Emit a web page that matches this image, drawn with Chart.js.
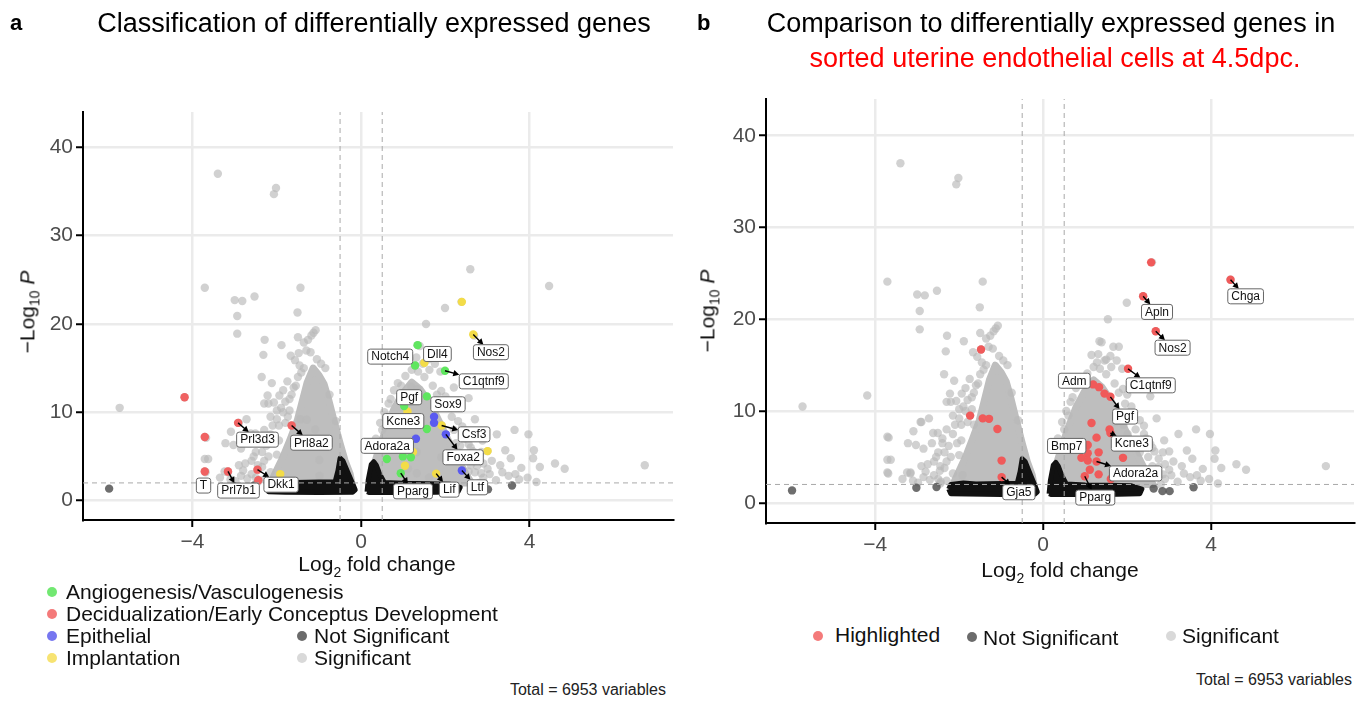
<!DOCTYPE html>
<html lang="en">
<head>
<meta charset="UTF-8">
<title>Differentially expressed genes - volcano plots</title>
<script src="https://cdn.jsdelivr.net/npm/chart.js"></script>
<style>
  body { margin: 0; width: 1363px; height: 701px; position: relative; background: #fff; overflow: hidden;
         font-family: "Liberation Sans", Arial, Helvetica, sans-serif; color: #000; }
  canvas { position: absolute; top: 0; }
  .c { position: absolute; white-space: nowrap; transform: translate(-50%, -50%); }
  .l { position: absolute; white-space: nowrap; transform: translateY(-50%); }
  .r { position: absolute; white-space: nowrap; transform: translate(-100%, -50%); }
  .head { font-size: 27px; }
  .tag { font-size: 22px; font-weight: bold; }
  .axt { font-size: 21px; color: #111; }
  .yt { transform: translate(-50%, -50%) rotate(-90deg); }
  .leg { font-size: 21px; color: #111; }
  .dot { position: absolute; width: 10px; height: 10px; border-radius: 50%; transform: translate(-50%, -50%); }
  .tot { font-size: 16px; color: #222; }
</style>
</head>
<body>
  <canvas id="volcanoA" width="680" height="560" style="left:0px"></canvas>
  <canvas id="volcanoB" width="680" height="560" style="left:683px"></canvas>

  <!-- titles -->
  <div class="l tag" style="left:10px; top:23px">a</div>
  <div class="c head" style="left:374px; top:23px">Classification of differentially expressed genes</div>
  <div class="l tag" style="left:697px; top:23px">b</div>
  <div class="c head" style="left:1051px; top:23px">Comparison to differentially expressed genes in</div>
  <div class="c head" style="left:1055px; top:58px; color:#ff0000">sorted uterine endothelial cells at 4.5dpc.</div>

  <!-- axis titles -->
  <div class="c axt" style="left:377px; top:566px">Log<sub style="font-size:14px">2</sub> fold change</div>
  <div class="c axt" style="left:1060px; top:572px">Log<sub style="font-size:14px">2</sub> fold change</div>
  <div class="c axt yt" style="left:29px; top:312px">&minus;Log<sub style="font-size:14px">10</sub> <i>P</i></div>
  <div class="c axt yt" style="left:709px; top:311px">&minus;Log<sub style="font-size:14px">10</sub> <i>P</i></div>

  <!-- legend a -->
  <div class="dot" style="left:52px; top:592px; background:#72e872"></div>
  <div class="l leg" style="left:66px; top:592px">Angiogenesis/Vasculogenesis</div>
  <div class="dot" style="left:52px; top:614px; background:#f47a7a"></div>
  <div class="l leg" style="left:66px; top:614px">Decidualization/Early Conceptus Development</div>
  <div class="dot" style="left:52px; top:636px; background:#7676f0"></div>
  <div class="l leg" style="left:66px; top:636px">Epithelial</div>
  <div class="dot" style="left:52px; top:658px; background:#f7e372"></div>
  <div class="l leg" style="left:66px; top:658px">Implantation</div>
  <div class="dot" style="left:302px; top:636px; background:#6b6b6b"></div>
  <div class="l leg" style="left:314px; top:636px">Not Significant</div>
  <div class="dot" style="left:302px; top:658px; background:#d9d9d9"></div>
  <div class="l leg" style="left:314px; top:658px">Significant</div>
  <div class="r tot" style="left:666px; top:690px">Total = 6953 variables</div>

  <!-- legend b -->
  <div class="dot" style="left:818px; top:636px; background:#f47a7a"></div>
  <div class="l leg" style="left:835px; top:635px">Highlighted</div>
  <div class="dot" style="left:972px; top:637px; background:#6b6b6b"></div>
  <div class="l leg" style="left:983px; top:638px">Not Significant</div>
  <div class="dot" style="left:1171px; top:636px; background:#d9d9d9"></div>
  <div class="l leg" style="left:1182px; top:636px">Significant</div>
  <div class="r tot" style="left:1352px; top:680px">Total = 6953 variables</div>

  <script>
    // axis ranges, ticks and cut-offs
    const xRange = [-6.6, 7.4];
    const yRange = [-2.2, 44];
    const xTicks = [-4, 0, 4];
    const yTicks = [0, 10, 20, 30, 40];
    const fcCut = 0.5;
    const pCut = 2;

    // significant genes (light grey), shared by both panels
    const sigX = [-5.73, -4.19, -3.40, -2.07, -2.02, -3.71, -3.00, -2.82, -2.53, -2.94, -2.94, -1.44, -1.51, -1.08, -1.13,
      -1.18, -1.26, -1.36, -1.50, -2.29, -1.89, -2.32, -1.67, -1.57, -1.46, -1.36, -1.05, -0.95, -1.20, -1.30, -0.85,
      -2.36, -2.12, -2.22, -1.94, -2.30, -2.20, -2.07, -1.85, -1.75, -2.72, -2.90, -3.09, -2.62, -2.51, -3.68, -3.22,
      -3.03, -2.85, -3.71, -3.63, -3.24, -3.16, -3.69, -2.98, -2.80, -2.60, -2.50, -2.40, -2.30, -2.15, -2.00, -2.70,
      -2.50, -2.35, -2.20, -2.05, -1.95, -1.85, -1.70, -1.60, -2.90, -2.65, -3.35, -3.10, -2.45, -2.60, -2.45, -2.55,
      -2.35, -2.40, -2.25, -2.15, -2.10, -2.00, -1.90, -1.80, -1.65, -1.55, -1.50, -1.42, -2.75, -2.85, -2.30, -2.15,
      -2.30, -2.00, -1.95, -1.80, -1.70, -0.60, -0.75, -1.48, -1.74, -1.44, -1.29, -1.09, -0.99, -0.99, -3.71, -3.71,
      -2.92, -3.16, -2.46, -2.44, -1.65, -1.92,
      2.59, 4.46, 2.38, 1.99, 1.54, 2.68, 1.39, 1.67, 1.80, 1.15, 1.31, 1.46, 1.62, 1.20, 1.05, 0.87, 1.88, 1.90,
      2.20, 2.55, 2.70, 3.22, 3.64, 3.97, 2.88, 3.42, 4.10, 4.08, 4.24, 4.60, 4.83, 6.73, 3.80, 3.66, 3.50, 3.95,
      4.16, 3.10, 3.00, 3.30, 2.90, 3.20, 2.75, 2.60, 2.40, 2.30, 2.10, 2.55, 2.85, 3.55, 2.00, 0.70, 0.60, 0.50,
      0.45, 0.78, 0.95, 1.60, 1.75, 2.25, 2.50, 3.35, 3.75, 2.80, 0.45, 0.55, 0.65, 0.35, 0.30, 2.20, 2.35, 2.60,
      2.70, 2.45, 2.15, 1.95, 1.80, 1.70, 1.50, 1.35, 2.30, 2.75, 2.90, 3.05, 2.65, 2.85, 2.55, 2.40, 1.19, 1.33,
      1.46, 1.15, 1.27, 1.06, 1.32, 1.90, 1.11, 1.32, 1.61, 1.34, 1.28, 1.50, 1.73, 1.73, 1.91, 2.01, 3.00, 2.39, 1.78];
    const sigY = [10.5, 11.7, 37.0, 34.7, 35.4, 24.1, 22.7, 22.6, 23.1, 20.9, 18.9, 24.1, 21.3, 19.3, 19.0,
      18.7, 18.2, 17.9, 18.5, 18.2, 17.6, 16.5, 16.4, 15.9, 15.3, 15.0, 16.0, 15.5, 16.8, 17.0, 15.0,
      14.0, 13.3, 11.9, 11.9, 11.0, 11.0, 11.1, 12.5, 13.5, 9.2, 8.8, 7.8, 7.6, 7.6, 7.1, 6.5,
      6.3, 5.9, 4.7, 4.7, 3.3, 3.2, 3.2, 2.2, 3.4, 4.5, 5.5, 6.5, 8.0, 9.5, 10.2, 2.5,
      2.6, 3.8, 5.0, 6.5, 8.5, 10.0, 11.5, 12.8, 4.0, 6.5, 2.6, 2.4, 2.1, 3.0, 4.0, 5.0,
      5.5, 7.0, 6.2, 7.5, 8.5, 9.2, 10.5, 11.2, 12.0, 13.0, 14.0, 14.5, 4.2, 2.8, 2.4, 3.2,
      4.5, 5.2, 6.8, 8.8, 10.2, 9.0, 12.0, 16.7, 9.5, 9.2, 9.15, 8.05, 4.6, 2.8, 7.2, 3.3,
      8.8, 3.3, 3.5, 2.3, 8.5, 3.0,
      26.2, 24.3, 22.5, 21.8, 20.0, 18.7, 17.5, 17.0, 17.0, 16.1, 16.2, 15.5, 14.8, 14.8, 14.1, 13.3, 14.6, 12.4,
      12.8, 11.6, 9.2, 7.5, 8.0, 7.5, 6.8, 5.7, 5.7, 4.8, 3.8, 4.2, 3.6, 4.0, 3.7, 3.0, 2.8, 2.6,
      2.1, 4.5, 3.6, 4.0, 2.6, 2.3, 4.8, 6.0, 7.5, 9.0, 10.5, 3.3, 5.5, 4.8, 11.8, 11.5, 9.5, 8.0,
      6.5, 12.5, 13.0, 16.0, 15.5, 6.5, 5.0, 3.2, 2.4, 2.0, 8.8, 10.0, 11.0, 7.0, 5.8, 8.0, 6.2, 4.0,
      3.2, 7.0, 9.5, 10.8, 12.0, 13.0, 14.0, 14.6, 5.5, 3.9, 4.2, 3.0, 5.6, 3.1, 6.4, 8.4, 12.9, 12.6,
      11.9, 8.7, 7.1, 6.3, 5.5, 4.9, 3.6, 3.1, 2.6, 17.6, 15.3, 15.6, 9.5, 8.8, 8.5, 7.5, 5.6, 3.4, 3.05];

    // not significant genes (dark grey)
    const nsX = [-5.98, -3.02, -2.54, 2.63, 2.84, 3.01, 3.58];
    const nsY = [1.35, 1.64, 1.72, 1.55, 1.27, 1.27, 1.70];

    // outlines of the dense grey clouds and of the black low-significance band
    const coreLeftX = [-2.15, -2.05, -1.85, -1.68, -1.52, -1.40, -1.28, -1.14, -1.00, -0.88, -0.78, -0.64, -0.50, -0.38, -0.26, -0.22];
    const coreLeftY = [2.0, 3.0, 5.0, 7.0, 9.0, 11.2, 13.4, 15.0, 14.2, 13.2, 11.6, 9.0, 6.5, 4.5, 3.0, 2.0];
    const coreRightX = [0.20, 0.30, 0.42, 0.58, 0.78, 0.98, 1.20, 1.40, 1.58, 1.80, 2.05, 2.30, 2.50, 2.62];
    const coreRightY = [2.0, 4.0, 5.8, 8.0, 10.4, 12.1, 13.4, 12.6, 11.4, 9.5, 7.0, 4.7, 2.9, 2.0];
    const blackLeftX = [-2.25, -2.20, -1.90, -1.60, -1.00, -0.62, -0.55, -0.50, -0.43, -0.30, -0.19, -0.14, -0.20, -1.00, -1.80, -2.20];
    const blackLeftY = [1.5, 2.0, 2.15, 2.05, 2.1, 2.1, 3.4, 4.8, 4.5, 3.0, 1.8, 1.2, 0.95, 0.9, 0.95, 1.0];
    const blackRightX = [0.14, 0.17, 0.24, 0.30, 0.36, 0.44, 0.55, 1.00, 1.60, 2.10, 2.35, 2.30, 1.50, 0.80, 0.20];
    const blackRightY = [1.0, 2.4, 4.1, 4.4, 4.0, 3.0, 2.05, 1.95, 1.9, 1.85, 1.5, 1.0, 0.9, 0.9, 0.9];

    // panel a categories
    const angioX = [1.34, 1.28, 1.99, 1.56, 1.02, 1.56, 0.61, 0.99, 1.18, 0.94];
    const angioY = [17.6, 15.3, 14.7, 11.8, 10.7, 8.1, 4.7, 5.0, 4.9, 3.1];
    const decidX = [-4.19, -3.71, -3.71, -2.92, -3.16, -2.46, -2.44, -1.65];
    const decidY = [11.7, 7.2, 3.3, 8.8, 3.3, 3.5, 2.3, 8.5];
    const epiX = [1.73, 1.73, 2.01, 1.30, 2.39];
    const epiY = [9.5, 8.8, 7.5, 7.0, 3.4];
    const implX = [2.66, 2.39, 1.50, 1.10, 1.91, 3.00, 1.23, 1.04, 1.78, -1.92];
    const implY = [18.8, 22.5, 15.6, 10.1, 8.5, 5.6, 5.5, 3.95, 3.05, 3.0];

    // panel b highlighted genes
    const hiX = [2.57, 4.46, 2.38, 2.68, 2.02, 1.19, 1.33, 1.46, 1.60, 1.15, 1.58, 1.60, 1.27, 1.06, 1.32, 1.06,
      0.91, 1.06, 1.27, 1.90, 1.11, 1.32, 1.61, 0.99, -1.48, -1.74, -1.44, -1.29, -1.09, -0.99, -0.99];
    const hiY = [26.2, 24.3, 22.5, 18.7, 14.6, 12.9, 12.6, 11.9, 11.55, 8.7, 8.0, 7.6, 7.1, 6.3, 5.5, 5.4,
      4.9, 4.6, 4.5, 4.9, 3.6, 3.1, 2.6, 2.9, 16.7, 9.5, 9.2, 9.15, 8.05, 4.6, 2.8];

    // labelled genes
    const labGenesA = ['Nos2', 'Dll4', 'Notch4', 'C1qtnf9', 'Pgf', 'Sox9', 'Kcne3', 'Csf3', 'Adora2a', 'Foxa2',
      'Pparg', 'Lif', 'Ltf', 'Prl3d3', 'Prl8a2', 'T', 'Prl7b1', 'Dkk1'];
    const labXA = [2.66, 1.34, 1.28, 1.99, 1.56, 1.73, 1.56, 1.91, 1.18, 2.01, 0.94, 1.78, 2.39, -2.92, -1.65, -3.71, -3.16, -2.46];
    const labYA = [18.8, 17.6, 15.3, 14.7, 11.8, 9.5, 8.1, 8.5, 4.9, 7.5, 3.1, 3.05, 3.4, 8.8, 8.5, 3.3, 3.3, 3.5];
    const labGenesB = ['Chga', 'Apln', 'Nos2', 'C1qtnf9', 'Adm', 'Pgf', 'Kcne3', 'Bmp7', 'Adora2a', 'Pparg', 'Gja5'];
    const labXB = [4.46, 2.38, 2.68, 2.02, 1.19, 1.60, 1.60, 1.06, 1.27, 0.99, -0.99];
    const labYB = [24.3, 22.5, 18.7, 14.6, 12.9, 11.55, 7.6, 6.3, 4.5, 2.9, 2.8];

    // where each label box sits (data units) and whether it gets an arrow
    const labPlaceA = [[3.08, 16.8, 1], [1.81, 16.6, 0], [0.69, 16.3, 0], [2.91, 13.5, 1], [1.14, 11.7, 0],
      [2.06, 10.9, 0], [1.0, 9.0, 0], [2.68, 7.5, 1], [0.62, 6.2, 0], [2.42, 4.9, 1], [1.23, 1.05, 1],
      [2.09, 1.24, 1], [2.76, 1.5, 1], [-2.46, 6.9, 1], [-1.18, 6.55, 1], [-3.74, 1.7, 0], [-2.91, 1.13, 1], [-1.90, 1.8, 1]];
    const labPlaceB = [[4.82, 22.5, 1], [2.71, 20.8, 1], [3.08, 16.9, 1], [2.56, 12.8, 1], [0.74, 13.3, 0],
      [1.95, 9.4, 1], [2.11, 6.45, 1], [0.56, 6.2, 0], [2.20, 3.2, 1], [1.24, 0.57, 1], [-0.58, 1.15, 1]];

    const pts = (xs, ys) => xs.map((x, i) => ({ x: x, y: ys[i] }));
    const closed = (xs, ys) => { const p = pts(xs, ys); p.push(p[0]); return p; };

    const dots = (xs, ys, color, r) => ({
      data: pts(xs, ys), showLine: false, pointRadius: r || 4.2, pointBorderWidth: 0,
      pointBackgroundColor: color, backgroundColor: color
    });
    const blob = (xs, ys, color, w) => ({
      data: closed(xs, ys), showLine: true, fill: 'shape', tension: 0, pointRadius: 0,
      backgroundColor: color, borderColor: color, borderWidth: w, borderJoinStyle: 'round'
    });
    const dashed = (xs, ys) => ({
      data: pts(xs, ys), showLine: true, fill: false, pointRadius: 0,
      borderColor: '#a9a9a9', borderWidth: 1, borderDash: [5, 4]
    });
    const cutLines = () => [
      dashed([-fcCut, -fcCut], yRange),
      dashed([fcCut, fcCut], yRange),
      dashed(xRange, [pCut, pCut])
    ];
    // grey background shared by both panels (bottom-most datasets last)
    const background = () => [
      dots(nsX, nsY, 'rgba(85,85,85,0.85)'),
      blob(blackLeftX, blackLeftY, '#111111', 5),
      blob(blackRightX, blackRightY, '#111111', 5),
      dots(sigX, sigY, 'rgba(185,185,185,0.65)'),
      blob(coreLeftX, coreLeftY, '#bebebe', 7),
      blob(coreRightX, coreRightY, '#bebebe', 7)
    ];

    const labelItems = (genes, xs, ys, place) => genes.map((g, i) => ({
      name: g, x: xs[i], y: ys[i], lx: place[i][0], ly: place[i][1], arrow: place[i][2] === 1
    }));

    // draws the boxed gene names with their arrows
    const geneLabels = {
      id: 'geneLabels',
      afterDatasetsDraw(chart, args, opts) {
        const ctx = chart.ctx, xs = chart.scales.x, ys = chart.scales.y;
        ctx.save();
        ctx.font = '12px "Liberation Sans", Arial, sans-serif';
        ctx.textAlign = 'center';
        ctx.textBaseline = 'middle';
        opts.items.forEach(it => {
          const px = xs.getPixelForValue(it.x), py = ys.getPixelForValue(it.y);
          const cx = xs.getPixelForValue(it.lx), cy = ys.getPixelForValue(it.ly);
          const w = ctx.measureText(it.name).width + 7, h = 15;
          if (it.arrow) {
            const dx = px - cx, dy = py - cy;
            const s = Math.min(dx ? (w / 2) / Math.abs(dx) : Infinity, dy ? (h / 2) / Math.abs(dy) : Infinity);
            const ex = cx + dx * s, ey = cy + dy * s;
            const ang = Math.atan2(ey - py, ex - px);
            ctx.strokeStyle = '#000';
            ctx.fillStyle = '#000';
            ctx.lineWidth = 1.4;
            ctx.beginPath();
            ctx.moveTo(px, py);
            ctx.lineTo(ex - 4 * Math.cos(ang), ey - 4 * Math.sin(ang));
            ctx.stroke();
            ctx.beginPath();
            ctx.moveTo(ex, ey);
            ctx.lineTo(ex - 6 * Math.cos(ang) + 3.2 * Math.sin(ang), ey - 6 * Math.sin(ang) - 3.2 * Math.cos(ang));
            ctx.lineTo(ex - 6 * Math.cos(ang) - 3.2 * Math.sin(ang), ey - 6 * Math.sin(ang) + 3.2 * Math.cos(ang));
            ctx.closePath();
            ctx.fill();
          }
          ctx.beginPath();
          ctx.roundRect(cx - w / 2, cy - h / 2, w, h, 2.5);
          ctx.fillStyle = '#fff';
          ctx.fill();
          ctx.strokeStyle = '#666';
          ctx.lineWidth = 1;
          ctx.stroke();
          ctx.fillStyle = '#111';
          ctx.fillText(it.name, cx, cy + 0.5);
        });
        ctx.restore();
      }
    };

    const tickFont = { family: '"Liberation Sans", Arial, sans-serif', size: 21 };
    const gridOpts = { color: '#ebebeb', lineWidth: 2.5, tickColor: '#000', tickWidth: 2, tickLength: 7 };

    const makeChart = (id, padTop, padRight, xAxisH, sets, items) => new Chart(document.getElementById(id), {
      type: 'scatter',
      data: { datasets: sets },
      options: {
        responsive: false,
        animation: false,
        events: [],
        layout: { padding: { top: padTop, right: padRight, left: 0, bottom: 0 } },
        plugins: { legend: { display: false }, tooltip: { enabled: false }, geneLabels: { items: items } },
        scales: {
          x: {
            min: xRange[0], max: xRange[1],
            afterBuildTicks: s => { s.ticks = xTicks.map(v => ({ value: v })); },
            afterFit: s => { s.height = xAxisH; },
            ticks: { color: '#4d4d4d', font: tickFont, maxRotation: 0, padding: 3,
                     callback: v => v < 0 ? '\u2212' + Math.abs(v) : String(v) },
            grid: gridOpts,
            border: { display: true, color: '#000', width: 2 }
          },
          y: {
            min: yRange[0], max: yRange[1],
            afterBuildTicks: s => { s.ticks = yTicks.map(v => ({ value: v })); },
            afterFit: s => { s.width = 83; },
            ticks: { color: '#4d4d4d', font: tickFont, padding: 3 },
            grid: gridOpts,
            border: { display: true, color: '#000', width: 2 }
          }
        }
      },
      plugins: [geneLabels]
    });

    // panel a: categories
    makeChart('volcanoA', 112, 7, 40, [
      ...cutLines(),
      dots(angioX, angioY, '#5fe65f'),
      dots(decidX, decidY, '#f06262'),
      dots(epiX, epiY, '#5a5af0'),
      dots(implX, implY, '#f3dc48'),
      ...background()
    ], labelItems(labGenesA, labXA, labYA, labPlaceA));

    // panel b: genes shared with sorted endothelial cells
    makeChart('volcanoB', 99, 9, 37, [
      ...cutLines(),
      dots(hiX, hiY, '#f05a5a'),
      ...background()
    ], labelItems(labGenesB, labXB, labYB, labPlaceB));
  </script>
</body>
</html>
